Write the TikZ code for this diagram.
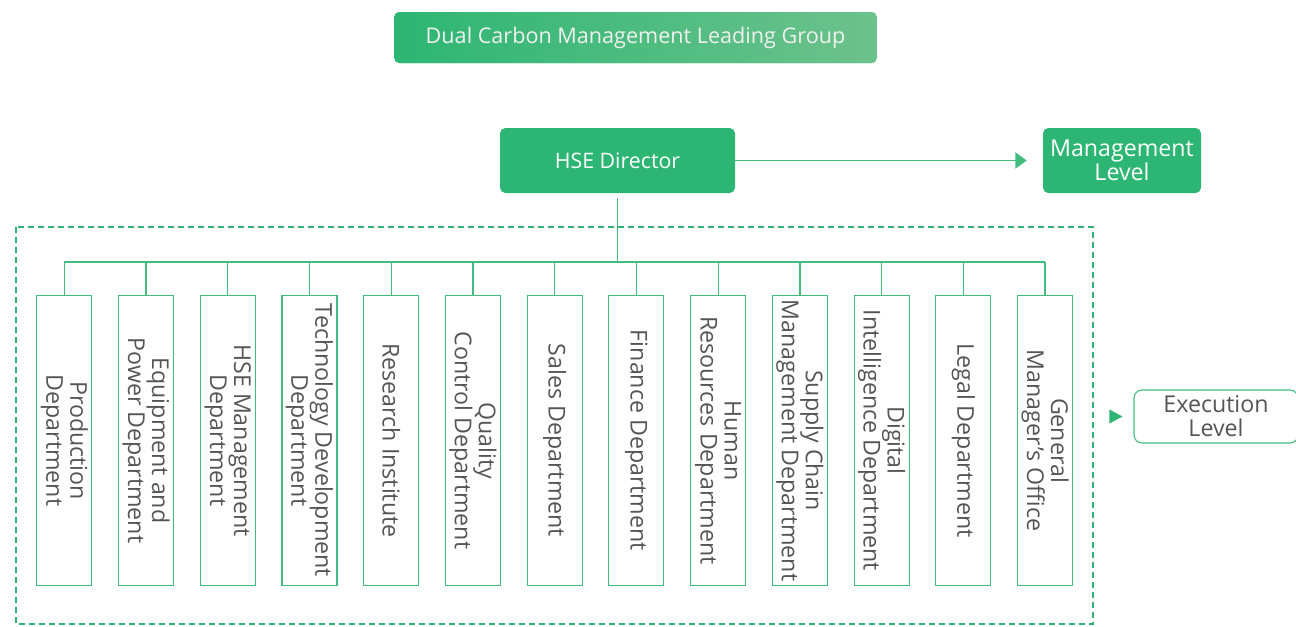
\documentclass[tikz,border=0pt]{standalone}
\usepackage{fontspec}
\setmainfont{Open Sans}
\usepackage{tikz}
\usetikzlibrary{matrix, arrows.meta}
\definecolor{grn}{RGB}{45,182,115}
\definecolor{grnlight}{RGB}{108,194,139}
\definecolor{grnline}{RGB}{64,188,127}
\definecolor{txtgray}{RGB}{85,85,85}

\begin{document}
\begin{tikzpicture}[x=0.75pt, y=-0.75pt,
  box/.style={fill=grn, text=white, rounded corners=4pt, inner sep=0pt, align=center},
  dept/.style={draw=grnline, line width=0.8pt, rotate=-90, minimum width=218pt, minimum height=41.25pt, inner sep=0pt, align=center, text=txtgray, font=\fontsize{17.4}{18}\selectfont},
  link/.style={draw=grnline, line width=1pt}]
\useasboundingbox (0,0) rectangle (1296,626);
% top levels
\node[box, left color=grn, right color=grnlight, minimum width=362pt, minimum height=38.25pt, text=white!94!black, font=\fontsize{16.2}{18}\selectfont](lead) at (635.5,37.5){Dual Carbon Management Leading Group};
\node[box, minimum width=176.25pt, minimum height=48.75pt, font=\fontsize{16}{18}\selectfont](hse) at (617.5,160.5){HSE Director};
\node[box, minimum width=118.5pt, minimum height=48.75pt, font=\fontsize{17.4}{18}\selectfont](mgmt) at (1122,160.5){Management\\Level};
\node[draw=grnline, fill=white, rounded corners=6pt, line width=0.8pt, minimum width=123pt, minimum height=39.75pt, inner sep=0pt, align=center, text=txtgray, font=\fontsize{17.4}{18}\selectfont](exe) at (1216,416.5){Execution\\Level};
\draw[grn, line width=0.9pt, dash pattern=on 4.5pt off 3pt] (16,227) rectangle (1093,624);
% departments
\matrix (m) [column sep=19.25pt, inner sep=0pt] at (554.7,440.5){
\node[dept](d1){Production\\Department}; &
\node[dept](d2){Equipment and\\Power Department}; &
\node[dept](d3){HSE Management\\Department}; &
\node[dept](d4){Technology Development\\Department}; &
\node[dept](d5){Research Institute}; &
\node[dept](d6){Quality\\Control Department}; &
\node[dept](d7){Sales Department}; &
\node[dept](d8){Finance Department}; &
\node[dept](d9){Human\\Resources Department}; &
\node[dept](d10){Supply Chain\\Management Department}; &
\node[dept](d11){Digital\\Intelligence Department}; &
\node[dept](d12){Legal Department}; &
\node[dept](d13){General\\Manager's Office}; \\
};
\coordinate (bus) at (617.5,262);
\draw[link, -{Triangle[length=8.5pt,width=12pt]}, shorten >=12pt] (hse) -- (mgmt);
\fill[grn] ([xshift=-8.25pt]exe.west) -- ++(-13,-7) -- ++(0,14) -- cycle;
\draw[link, shorten <=3.75pt] (hse.south) -- (bus);
\draw[link] (d1.west |- bus) -- (d13.west |- bus);
\draw[link] (d1.west) -- (d1.west |- bus);
\draw[link] (d2.west) -- (d2.west |- bus);
\draw[link] (d3.west) -- (d3.west |- bus);
\draw[link] (d4.west) -- (d4.west |- bus);
\draw[link] (d5.west) -- (d5.west |- bus);
\draw[link] (d6.west) -- (d6.west |- bus);
\draw[link] (d7.west) -- (d7.west |- bus);
\draw[link] (d8.west) -- (d8.west |- bus);
\draw[link] (d9.west) -- (d9.west |- bus);
\draw[link] (d10.west) -- (d10.west |- bus);
\draw[link] (d11.west) -- (d11.west |- bus);
\draw[link] (d12.west) -- (d12.west |- bus);
\draw[link] (d13.west) -- (d13.west |- bus);
\end{tikzpicture}
\end{document}
